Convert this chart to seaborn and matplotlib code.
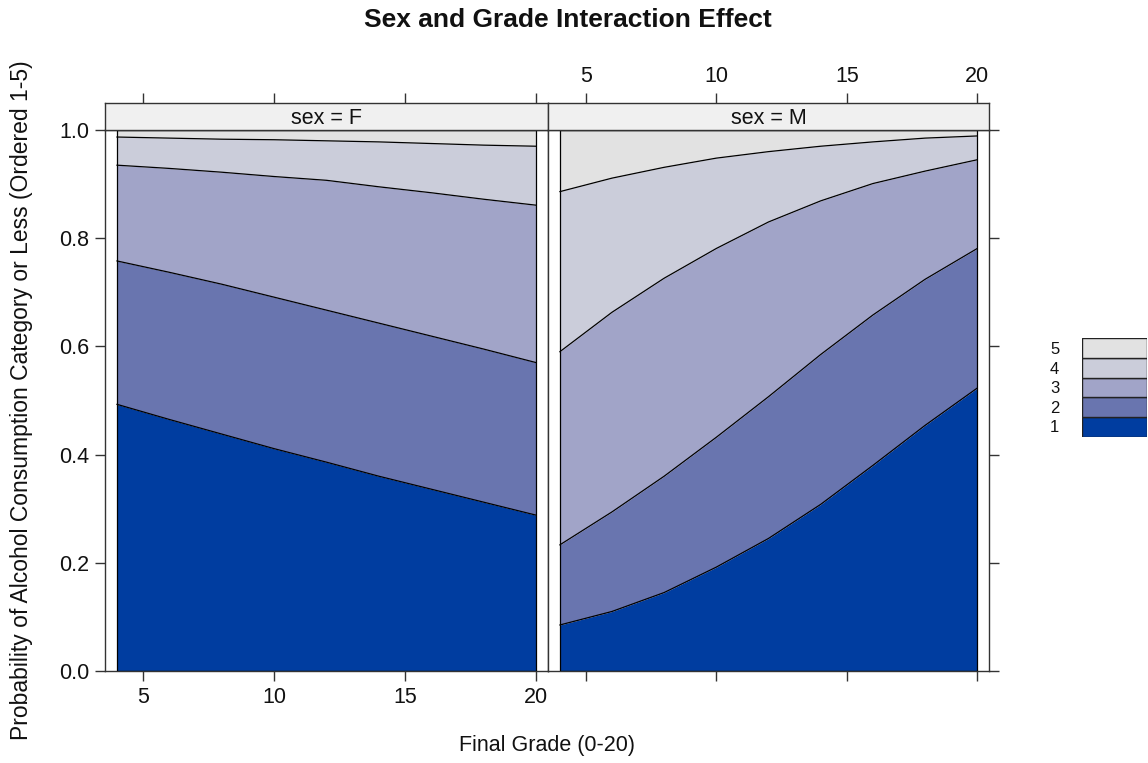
import numpy as np
import pandas as pd
import matplotlib
matplotlib.use("Agg")
import matplotlib.pyplot as plt
import seaborn as sns

# ---- data (cumulative probability P(category <= k)) ----
grade = [4, 6, 8, 10, 12, 14, 16, 18, 20]

f_le1 = [0.493, 0.465, 0.438, 0.411, 0.386, 0.360, 0.336, 0.312, 0.288]
f_le2 = [0.758, 0.737, 0.715, 0.691, 0.667, 0.643, 0.619, 0.595, 0.570]
f_le3 = [0.935, 0.929, 0.922, 0.914, 0.907, 0.895, 0.884, 0.872, 0.861]
f_le4 = [0.987, 0.985, 0.983, 0.982, 0.980, 0.978, 0.975, 0.972, 0.970]

m_le1 = [0.085, 0.110, 0.145, 0.192, 0.245, 0.308, 0.380, 0.454, 0.523]
m_le2 = [0.233, 0.294, 0.360, 0.432, 0.507, 0.585, 0.658, 0.724, 0.781]
m_le3 = [0.590, 0.663, 0.726, 0.781, 0.830, 0.869, 0.901, 0.924, 0.945]
m_le4 = [0.886, 0.911, 0.931, 0.948, 0.960, 0.970, 0.978, 0.985, 0.989]

categories = ["1", "2", "3", "4", "5"]
colors = ["#003DA0", "#6975AF", "#A1A4C8", "#CBCDDA", "#E2E2E2"]
panels = ["F", "M"]
x_ticks = [5, 10, 15, 20]
y_ticks = [0.0, 0.2, 0.4, 0.6, 0.8, 1.0]

title = "Sex and Grade Interaction Effect"
xlabel = "Final Grade (0-20)"
ylabel = "Probability of Alcohol Consumption Category or Less (Ordered 1-5)"

rows = []
for sex, bounds in (("F", [f_le1, f_le2, f_le3, f_le4]), ("M", [m_le1, m_le2, m_le3, m_le4])):
    for k, vals in enumerate(bounds, start=1):
        for g, v in zip(grade, vals):
            rows.append({"sex": sex, "grade": g, "level": k, "cum": v})
df = pd.DataFrame(rows)

sns.set_theme(style="white")
plt.rcParams["font.family"] = ["Liberation Sans", "DejaVu Sans"]

W, H = 1148, 763
fig = plt.figure(figsize=(W / 100, H / 100), dpi=100)


def rect(x0, y0, x1, y1):
    return [x0 / W, 1 - y1 / H, (x1 - x0) / W, (y1 - y0) / H]


XLIM = (3.55, 20.45)
frame_col = "#333333"
tick_kw = dict(length=7.5, width=1.0, color=frame_col, labelsize=15.5, labelcolor="#111111", pad=4)

layout = {"F": (105, 548), "M": (548, 989)}

for sex in panels:
    x0, x1 = layout[sex]
    ax = fig.add_axes(rect(x0, 130, x1, 671))
    strip = fig.add_axes(rect(x0, 103, x1, 130))
    sub = df[df["sex"] == sex]
    g = np.array(grade)
    lower = np.zeros(len(grade))
    for k in range(5):
        if k < 4:
            upper = sub[sub["level"] == k + 1].sort_values("grade")["cum"].to_numpy()
        else:
            upper = np.ones(len(grade))
        ax.fill_between(g, lower, upper, color=colors[k], lw=0, zorder=1)
        lower = upper
    sns.lineplot(data=sub, x="grade", y="cum", units="level", estimator=None,
                 color="black", lw=0.9, ax=ax, legend=False, zorder=3)
    # outline of the filled region
    ax.plot([grade[0], grade[0], grade[-1], grade[-1]], [1, 0, 0, 1], color="black", lw=0.9, zorder=3)
    ax.plot([grade[0], grade[-1]], [1, 1], color="black", lw=0.9, zorder=3)

    ax.set_xlim(*XLIM)
    ax.set_ylim(0, 1)
    ax.set_xlabel("")
    ax.set_ylabel("")
    ax.set_xticks(x_ticks)
    ax.set_yticks(y_ticks)
    ax.set_yticklabels([f"{v:.1f}" for v in y_ticks])
    for sp in ax.spines.values():
        sp.set_color(frame_col)
        sp.set_linewidth(1.0)
    ax.tick_params(axis="both", direction="out", **tick_kw)
    if sex == "F":
        ax.tick_params(axis="y", left=True, right=False, labelleft=True, labelright=False)
        ax.tick_params(axis="x", bottom=True, labelbottom=True)
    else:
        ax.tick_params(axis="y", left=False, right=True, labelleft=False, labelright=False)
        ax.tick_params(axis="x", bottom=True, labelbottom=False)

    strip.set_facecolor("#F0F0F0")
    strip.set_xlim(*XLIM)
    strip.set_ylim(0, 1)
    strip.set_yticks([])
    strip.set_xticks(x_ticks)
    strip.xaxis.set_ticks_position("top")
    strip.tick_params(axis="x", direction="out", top=True, bottom=False,
                      labeltop=(sex == "M"), labelbottom=False, **tick_kw)
    for sp in strip.spines.values():
        sp.set_color(frame_col)
        sp.set_linewidth(1.0)
    strip.text(0.5, 0.42, f"sex = {sex}", transform=strip.transAxes, ha="center",
               va="center", fontsize=15.5, color="#111111")

# colour key
kax = fig.add_axes(rect(1082, 338, 1147, 437))
kax.set_xlim(0, 1)
kax.set_ylim(0, 5)
for k in range(5):
    kax.bar(0.5, 1, bottom=k, width=1, color=colors[k], edgecolor="#222222", lw=1.0)
kax.set_xticks([])
kax.set_yticks([])
for sp in kax.spines.values():
    sp.set_visible(False)
for k, lab in enumerate(categories):
    fig.text(1050 / W, 1 - (428 - k * 19.5) / H, lab, ha="left", va="center", fontsize=12, color="#111111")

fig.text(568 / W, 1 - 20 / H, title, ha="center", va="center", fontsize=19, fontweight="bold", color="#111111")
fig.text(547 / W, 1 - 746 / H, xlabel, ha="center", va="center", fontsize=15.5, color="#111111")
fig.text(22 / W, 1 - 400 / H, ylabel, ha="center", va="center", rotation=90, fontsize=16.5, color="#111111")

fig.savefig("out.png", dpi=100)
